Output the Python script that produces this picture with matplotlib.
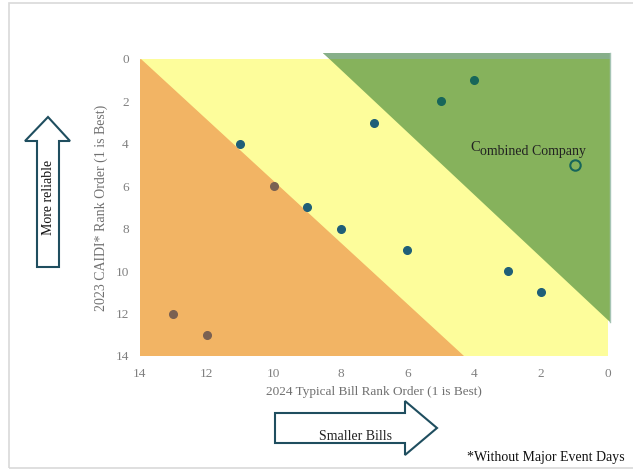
import numpy as np
import matplotlib.pyplot as plt
from matplotlib.patches import Polygon, Rectangle

# bill rank (x) vs CAIDI rank (y) for each utility
bill_rank = [4, 5, 7, 11, 10, 9, 8, 6, 3, 2, 13, 12]
caidi_rank = [1, 2, 3, 4, 6, 7, 8, 9, 10, 11, 12, 13]
combined_bill = 1
combined_caidi = 5
ticks = [14, 12, 10, 8, 6, 4, 2, 0]

plt.rcParams['font.family'] = ['Liberation Serif', 'DejaVu Serif']

fig = plt.figure(figsize=(6.33, 4.7), dpi=100)
ax = fig.add_axes([0.221, 0.2426, 0.7395, 0.6319])
ax.set_xlim(14, 0)
ax.set_ylim(14, 0)

# zone boundaries (parallel diagonals)
def orange_edge(x):
    return 1.448 * (14 - x)

def green_edge(x):
    return -0.3 + 1.49 * (8.52 - x)

ax.add_patch(Rectangle((0, 0), 14, 14, color='#fdfd9b', zorder=1))
ax.add_patch(Polygon([(14, 0), (14, 14), (4.33, 14)], closed=True,
                     color='#f2b464', zorder=2))
ax.add_patch(Polygon([(8.52, -0.3), (-0.05, -0.3), (-0.05, 12.4)], closed=True,
                     facecolor='#86b25c', edgecolor='none', zorder=2, clip_on=False))
ax.add_patch(Polygon([(8.52, -0.3), (-0.05, -0.3), (-0.05, 0), (8.32, 0)], closed=True,
                     facecolor='#87af8a', edgecolor='none', zorder=3, clip_on=False))
ax.plot([-0.05, -0.05], [-0.3, 12.4], color='#a5c4b4', lw=1, zorder=3, clip_on=False)

for x, y in zip(bill_rank, caidi_rank):
    if y > orange_edge(x):
        c = '#7a6152'
    elif y < green_edge(x):
        c = '#17665a'
    else:
        c = '#1f5f78'
    ax.plot(x, y, 'o', color=c, ms=5.5, zorder=5)

ax.plot(combined_bill, combined_caidi, 'o', mfc='none', mec='#17665a', mew=1.5, ms=7.5, zorder=5)

# label with the raised leading "C"
c_txt = ax.text(combined_bill + 3.13, combined_caidi - 0.68, 'C', fontsize=10.5,
                color='#222222', ha='left', va='baseline', zorder=6)
fig.canvas.draw()
bb = c_txt.get_window_extent()
x_after = ax.transData.inverted().transform((bb.x1, bb.y0))[0]
ax.text(x_after, combined_caidi - 0.48, 'ombined Company', fontsize=10,
        color='#222222', ha='left', va='baseline', zorder=6)

ax.set_xticks(ticks)
ax.set_yticks(ticks)
ax.tick_params(length=0, labelsize=9.5, labelcolor='#808080', pad=8)
ax.tick_params(axis='x', pad=9)
for s in ax.spines.values():
    s.set_visible(False)
ax.set_xlabel('2024 Typical Bill Rank Order (1 is Best)', fontsize=9.5, color='#707070', labelpad=4)
ax.set_ylabel('2023 CAIDI* Rank Order (1 is Best)', fontsize=10, color='#707070', labelpad=5)

# outer frame
fig.patches.append(Rectangle((9 / 633, 1 - 468 / 470), 1.2, 465 / 470, transform=fig.transFigure,
                             fill=False, edgecolor='#d9d9d9', lw=1.2))

W, H = 633, 470
def fx(p):
    return p / W
def fy(p):
    return 1 - p / H

up = Polygon([(fx(37), fy(267)), (fx(37), fy(141)), (fx(25), fy(141)), (fx(48), fy(117)),
              (fx(70), fy(141)), (fx(59), fy(141)), (fx(59), fy(267))], closed=True,
             transform=fig.transFigure, facecolor='white', edgecolor='#1f4e5f', lw=1.5)
fig.patches.append(up)
fig.text(fx(48), fy(197), 'More reliable', rotation=90, ha='center', va='center', fontsize=10, color='#111111')

right = Polygon([(fx(275), fy(413)), (fx(405), fy(413)), (fx(405), fy(401)), (fx(437), fy(428)),
                 (fx(405), fy(455)), (fx(405), fy(443)), (fx(275), fy(443))], closed=True,
                transform=fig.transFigure, facecolor='white', edgecolor='#1f4e5f', lw=1.5)
fig.patches.append(right)
fig.text(fx(355), fy(437), 'Smaller Bills', ha='center', va='center', fontsize=10, color='#222222')
fig.text(fx(625), fy(458), '*Without Major Event Days', ha='right', va='center', fontsize=10, color='#111111')

fig.savefig('out.png', dpi=100)
